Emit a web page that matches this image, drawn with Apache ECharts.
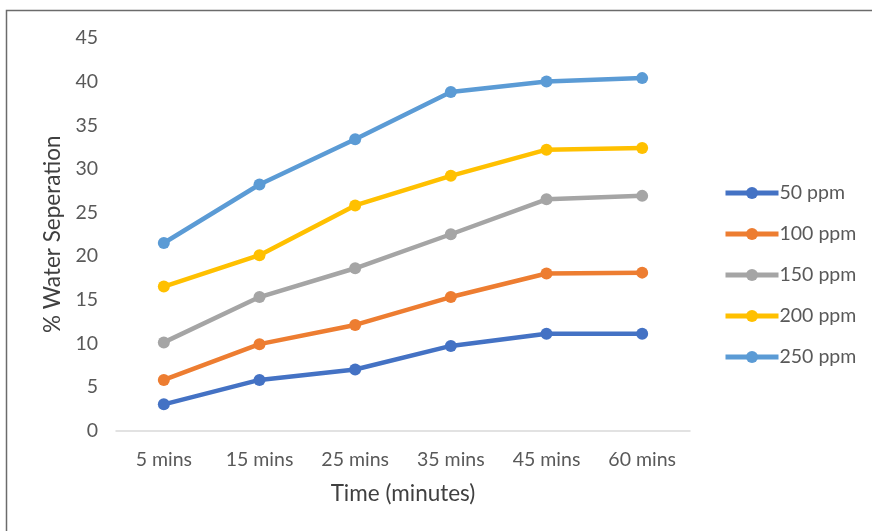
<!DOCTYPE html>
<html>
<head>
<meta charset="utf-8">
<script src="https://cdn.jsdelivr.net/npm/echarts@6/dist/echarts.min.js"></script>
<style>
  html, body { margin: 0; padding: 0; background: #fff; }
  #chart { width: 872px; height: 531px; }
</style>
</head>
<body>
<div id="chart"></div>
<script>
// Sampling times on the category axis
const categories = ['5 mins', '15 mins', '25 mins', '35 mins', '45 mins', '60 mins'];

// % water separation per dosage
const ppm50  = [3.0, 5.8, 7.0, 9.7, 11.1, 11.1];
const ppm100 = [5.8, 9.9, 12.1, 15.3, 18.0, 18.1];
const ppm150 = [10.1, 15.3, 18.6, 22.5, 26.5, 26.9];
const ppm200 = [16.5, 20.1, 25.8, 29.2, 32.2, 32.4];
const ppm250 = [21.5, 28.2, 33.4, 38.8, 40.0, 40.4];

const seriesNames = ['50 ppm', '100 ppm', '150 ppm', '200 ppm', '250 ppm'];
const seriesValues = [ppm50, ppm100, ppm150, ppm200, ppm250];
const colors = ['#4472C4', '#ED7D31', '#A5A5A5', '#FFC000', '#5B9BD5'];

const font = 'Lato, "Open Sans", sans-serif';
const textColor = '#595959';
const titleColor = '#404040';

const chart = echarts.init(document.getElementById('chart'), null, { renderer: 'canvas' });

chart.setOption({
  animation: false,
  backgroundColor: '#ffffff',
  color: colors,
  grid: { left: 116, right: 182, top: 38, bottom: 100.5 },
  legend: {
    orient: 'vertical',
    left: 723,
    top: 183,
    padding: 0,
    itemWidth: 53,
    itemHeight: 15,
    itemGap: 21,
    lineStyle: { width: 5 },
    textStyle: { fontFamily: font, fontSize: 19.5, color: textColor, padding: [0, 0, 0, -4] },
    data: seriesNames
  },
  xAxis: {
    type: 'category',
    data: categories,
    boundaryGap: true,
    name: 'Time (minutes)',
    nameLocation: 'middle',
    nameGap: 52,
    nameTextStyle: { fontFamily: font, fontSize: 22.5, color: titleColor },
    axisLine: { lineStyle: { color: '#D9D9D9', width: 1.5 } },
    axisTick: { show: false },
    axisLabel: { fontFamily: font, fontSize: 19.5, color: textColor, margin: 19 }
  },
  yAxis: {
    type: 'value',
    min: 0,
    max: 45,
    interval: 5,
    name: '% Water Seperation',
    nameLocation: 'middle',
    nameGap: 52,
    nameTextStyle: { fontFamily: font, fontSize: 22.5, color: titleColor },
    axisLine: { show: false },
    axisTick: { show: false },
    splitLine: { show: false },
    axisLabel: { fontFamily: font, fontSize: 19.5, color: textColor, margin: 18 }
  },
  series: seriesNames.map((name, i) => ({
    name: name,
    type: 'line',
    data: seriesValues[i],
    symbol: 'circle',
    symbolSize: 12,
    lineStyle: { width: 4.5, color: colors[i] },
    itemStyle: { color: colors[i] }
  })),
  graphic: [
    {
      type: 'polyline',
      shape: { points: [[6.5, 531], [6.5, 10.5], [872, 10.5]] },
      style: { stroke: '#6b6b6b', lineWidth: 1.5, fill: null }
    }
  ]
});
</script>
</body>
</html>
